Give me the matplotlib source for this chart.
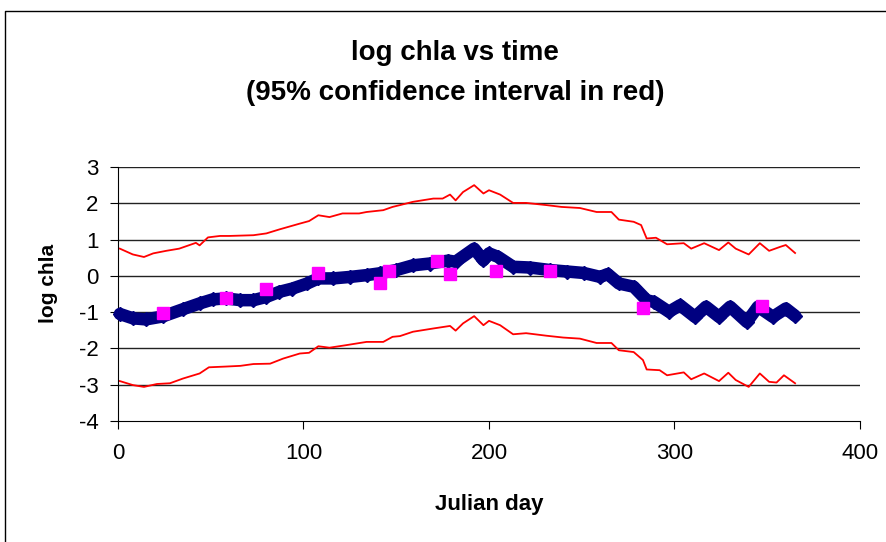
import numpy as np
import matplotlib.pyplot as plt
from matplotlib.lines import Line2D

plt.rcParams['font.family'] = ['Liberation Sans', 'DejaVu Sans']
plt.rcParams['axes.unicode_minus'] = False

# fitted log chla (blue diamonds)
fit_day = [1, 8, 15, 24, 35, 44, 51, 58, 66, 73, 80, 87, 94, 102, 108, 116,
           125, 134, 141, 150, 159, 168, 178, 182, 192, 197, 200, 205, 213,
           222, 233, 242, 251, 260, 264, 270, 278, 285, 289, 297, 303, 311,
           317, 324, 330, 339, 345, 353, 360, 365]
fit_val = [-1.05, -1.17, -1.2, -1.12, -0.92, -0.76, -0.65, -0.62, -0.67, -0.67,
           -0.58, -0.44, -0.35, -0.21, -0.07, -0.07, -0.03, 0.02, 0.07, 0.16,
           0.29, 0.34, 0.42, 0.39, 0.75, 0.43, 0.62, 0.52, 0.25, 0.23, 0.16,
           0.12, 0.08, -0.03, 0.05, -0.21, -0.3, -0.67, -0.72, -0.99, -0.81,
           -1.13, -0.85, -1.13, -0.85, -1.27, -0.85, -1.13, -0.9, -1.1]

# upper 95% bound
up_day = [1, 8, 14, 19, 26, 33, 42, 44, 48.5, 55, 60, 73, 80, 87, 98, 103,
          108, 114, 121, 130, 134, 143, 148, 152, 159, 170, 175, 179, 182,
          186, 192, 197, 200, 206, 213, 220, 231, 239, 249, 258, 266, 270,
          278, 282, 285, 290, 296, 305, 309, 316, 324, 329, 333, 340, 346,
          351, 357, 360, 365]
up_val = [0.75, 0.59, 0.52, 0.62, 0.69, 0.75, 0.91, 0.84, 1.06, 1.1, 1.1,
          1.12, 1.17, 1.28, 1.44, 1.51, 1.67, 1.62, 1.72, 1.72, 1.76, 1.81,
          1.9, 1.95, 2.04, 2.13, 2.13, 2.24, 2.08, 2.31, 2.5, 2.27, 2.36,
          2.24, 2.01, 2.01, 1.95, 1.9, 1.87, 1.76, 1.76, 1.55, 1.49, 1.4,
          1.03, 1.05, 0.87, 0.9, 0.75, 0.9, 0.71, 0.92, 0.75, 0.59, 0.9,
          0.69, 0.8, 0.85, 0.63]

# lower 95% bound
lo_day = [1, 8, 14, 21, 28, 35, 44, 49, 58, 66, 73, 82, 89, 98, 103, 108,
          114, 123, 134, 143, 148, 152, 159, 170, 179, 182, 186, 192, 197,
          200, 206, 213, 220, 231, 240, 249, 258, 266, 270, 278, 283, 285,
          292, 296, 305, 309, 316, 324, 329, 333, 340, 346, 351, 355, 359, 365]
lo_val = [-2.9, -3.01, -3.06, -2.98, -2.96, -2.83, -2.69, -2.52, -2.5, -2.48,
          -2.43, -2.42, -2.28, -2.14, -2.12, -1.94, -1.98, -1.91, -1.82,
          -1.82, -1.68, -1.66, -1.54, -1.45, -1.38, -1.51, -1.31, -1.11,
          -1.36, -1.24, -1.36, -1.61, -1.58, -1.65, -1.7, -1.73, -1.85,
          -1.85, -2.05, -2.1, -2.32, -2.58, -2.6, -2.74, -2.66, -2.85, -2.69,
          -2.9, -2.67, -2.87, -3.06, -2.69, -2.92, -2.94, -2.74, -2.96]

# observed values (magenta squares)
obs_day = [24, 58, 80, 108, 141, 146, 172, 179, 204, 233, 283, 347]
obs_val = [-1.03, -0.62, -0.35, 0.08, -0.19, 0.13, 0.4, 0.04, 0.13, 0.13,
           -0.88, -0.83]

W, H = 887, 542
fig = plt.figure(figsize=(W / 100, H / 100), dpi=100)
ax = fig.add_axes([118 / W, 1 - 421 / H, 742 / W, 254 / H])

for yv in range(-3, 4):
    ax.axhline(yv, color='#222222', lw=1.0, zorder=1)

ax.plot(up_day, up_val, color='red', lw=1.3, zorder=2)
ax.plot(lo_day, lo_val, color='red', lw=1.3, zorder=2)
ax.plot(fit_day, fit_val, color='#000080', lw=9, marker='D', ms=7.5,
        mec='#000080', mfc='#000080', solid_joinstyle='round',
        solid_capstyle='round', zorder=3, clip_on=False)
ax.plot(obs_day, obs_val, ls='none', marker='s', ms=8.3, color='#FF00FF',
        zorder=4)

ax.set_xlim(0, 400)
ax.set_ylim(-4, 3)
ax.set_xticks(np.arange(0, 401, 100))
ax.set_yticks(np.arange(-4, 4, 1))
ax.tick_params(direction='out', length=6, width=0.8, labelsize=16, color='black')
ax.tick_params(axis='x', pad=10)
ax.tick_params(axis='y', pad=8)
ax.spines['top'].set_visible(False)
ax.spines['right'].set_visible(False)
ax.spines['left'].set_linewidth(0.8)
ax.spines['bottom'].set_linewidth(0.8)

fig.text(455 / W, 1 - 60 / H, 'log chla vs time', ha='center', va='baseline',
         fontsize=20, fontweight='bold')
fig.text(455 / W, 1 - 100 / H, '(95% confidence interval in red)', ha='center',
         va='baseline', fontsize=20, fontweight='bold')
fig.text(489 / W, 1 - 510 / H, 'Julian day', ha='center', va='baseline',
         fontsize=16, fontweight='bold')
fig.text(49 / W, 1 - 283 / H, 'log chla', ha='center', va='center',
         rotation=90, fontsize=15, fontweight='bold')

# chart area border (left and top edges visible)
fig.add_artist(Line2D([5 / W, 5 / W, 1.0], [0.0, 1 - 11 / H, 1 - 11 / H],
                      transform=fig.transFigure, color='black', lw=1.0))

fig.savefig('out.png', dpi=100)
